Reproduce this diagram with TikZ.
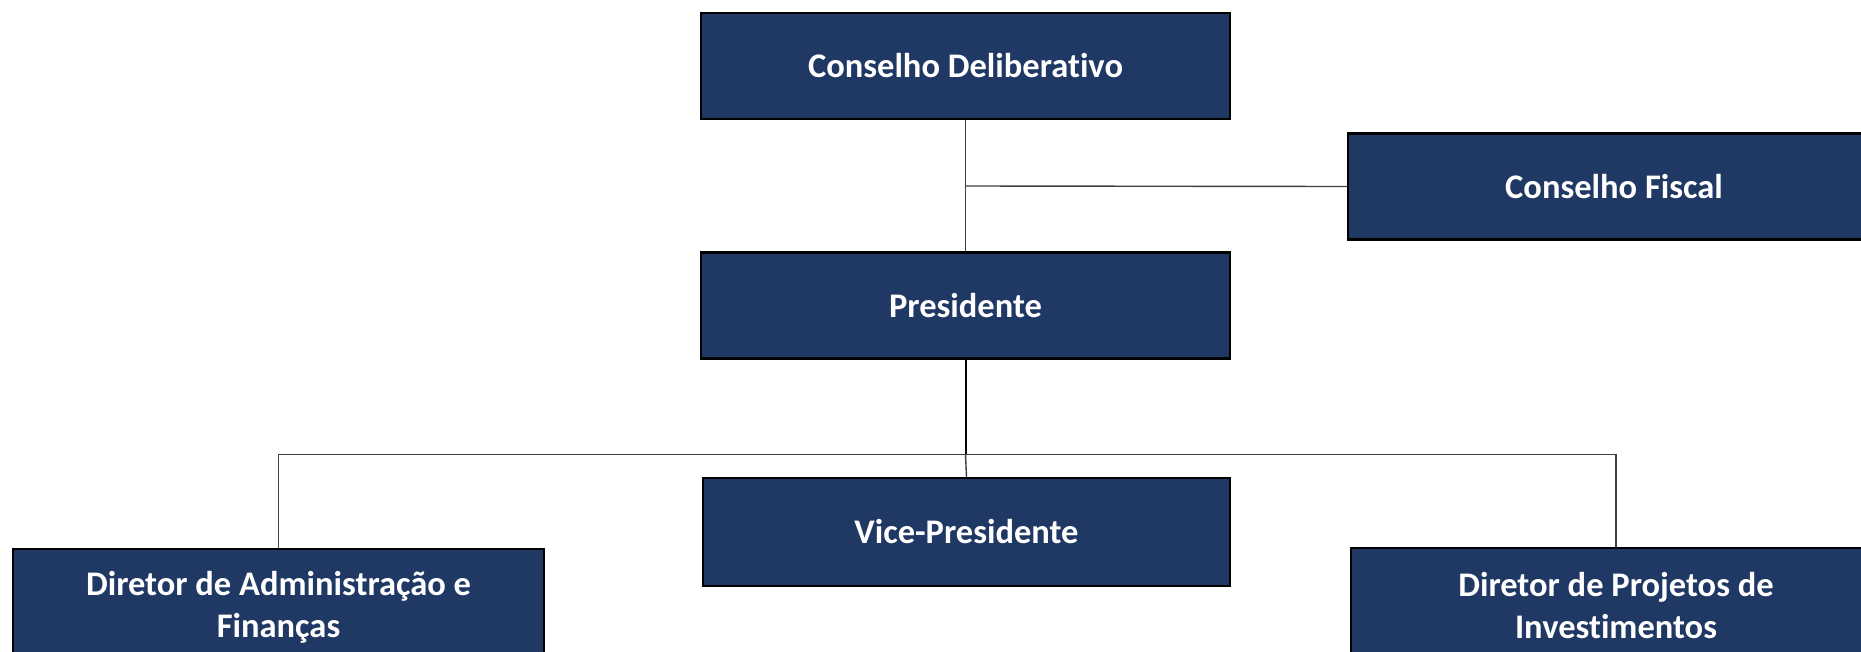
\documentclass[tikz,border=0pt]{standalone}
\usepackage{fontspec}
\setmainfont{Carlito}[Ligatures=NoCommon]
\definecolor{boxblue}{HTML}{203864}
\definecolor{linegray}{HTML}{404040}
\tikzset{
  orgbox/.style={draw=black, line width=2.2pt, fill=boxblue, text=white,
    font=\bfseries\fontsize{34.5}{42}\selectfont, align=center,
    inner sep=0pt, minimum width=529pt, minimum height=106pt},
  conn/.style={draw=linegray, line width=1.4pt},
  mainconn/.style={draw=black, line width=2pt}
}
\begin{document}
\begin{tikzpicture}[x=1pt,y=-1pt]
\clip (0,0) rectangle (1861,651);
\fill[white] (0,0) rectangle (1861,651);
\node[orgbox] (cd) at (965.5,66) {Conselho Deliberativo};
\node[orgbox, minimum width=532pt] (cf) at (1614,186.5) {Conselho Fiscal};
\node[orgbox] (pres) at (965.5,305.5) {Presidente};
\node[orgbox, minimum width=527pt, minimum height=108pt] (vp) at (966.5,532) {Vice-Presidente};
\node[orgbox, minimum width=531pt, minimum height=116pt] (adm) at (278.5,607) {Diretor de Administração e\\Finanças};
\node[orgbox, minimum width=530pt, minimum height=116pt] (proj) at (1616,606) {Diretor de Projetos de\\Investimentos};
\coordinate (j1) at (965.5,186);
\coordinate (br) at (965.5,454.5);
\draw[conn] (cd.south) -- (pres.north);
\draw[conn] (j1) -- (cf.west);
\draw[mainconn] (pres.south) -- (br);
\draw[conn] (br) -- (vp.north);
\draw[conn] (adm.north) |- (br) -| (proj.north);
\end{tikzpicture}
\end{document}
